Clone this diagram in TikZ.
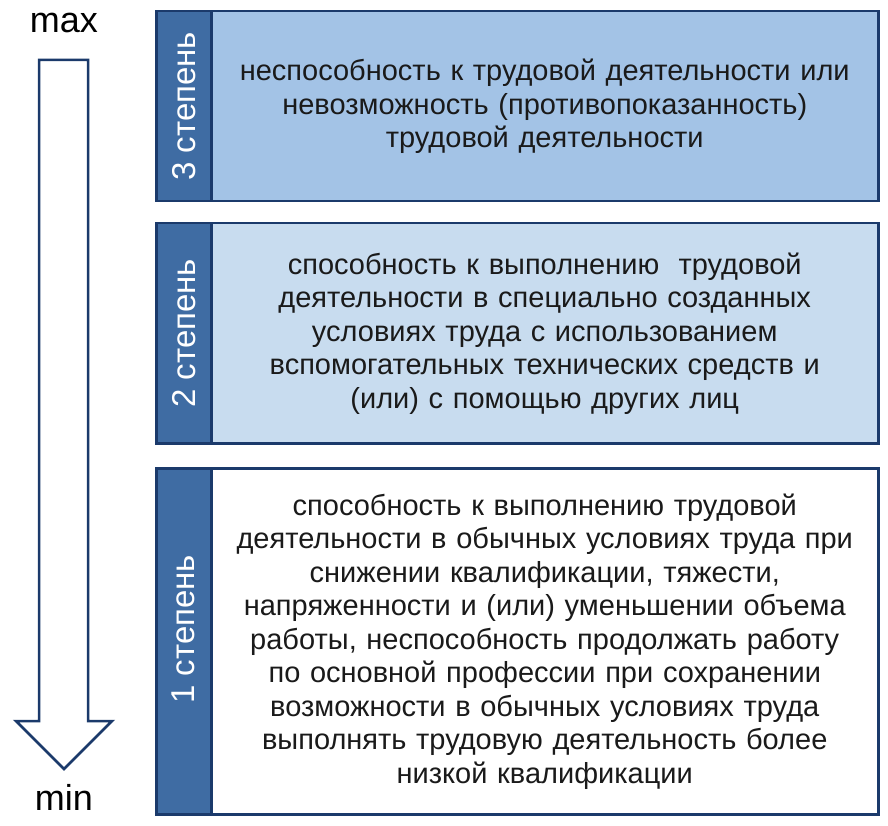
\documentclass[tikz,border=0pt]{standalone}
\usepackage{fontspec}
\setmainfont{Liberation Sans}
\usepackage{tikz}
\usetikzlibrary{positioning}
\definecolor{navy}{HTML}{1B3A6B}
\definecolor{stripblue}{HTML}{3F6CA3}
\definecolor{levthree}{HTML}{A3C3E6}
\definecolor{levtwo}{HTML}{C8DCEF}
\definecolor{textgray}{HTML}{1A1A1A}

\begin{document}
\begin{tikzpicture}[
  x=1pt, y=-1pt,
  strip/.style={rectangle, draw=navy, fill=stripblue, line width=2.5pt,
    minimum width=55pt, anchor=north west, inner sep=0pt},
  stripname/.style={rotate=90, text=white, font=\fontsize{33}{36}\selectfont},
  content/.style={rectangle, draw=navy, line width=2.5pt,
    minimum width=667pt, anchor=north west, inner sep=4pt,
    text width=650pt, align=center, text=textgray,
    font=\fontsize{29}{33.5}\selectfont},
  extreme/.style={font=\fontsize{36}{40}\selectfont, text=black},
  arrowline/.style={draw=navy, fill=white, line width=2.5pt, line join=miter}
]
\useasboundingbox (0,0) rectangle (888,826);
\fill[white] (0,0) rectangle (888,826);

% scale arrow
\node[extreme] (max) at (64,23) {max};
\node[extreme] (min) at (64,797) {min};
\draw[arrowline] (39,60) -- (88,60) -- (88,721) -- (112,721) -- (64,769)
  -- (16,721) -- (39,721) -- cycle;

% level 3
\node[strip, minimum height=190pt] (s3) at (155,10) {};
\node[stripname] (n3) at (s3.center) {3 степень};
\node[content, fill=levthree, minimum height=190pt] (c3) at (210,10)
  {неспособность к трудовой деятельности или\\
   невозможность (противопоказанность)\\
   трудовой деятельности};

% level 2
\node[strip, minimum height=220pt] (s2) at (155,222) {};
\node[stripname] (n2) at (s2.center) {2 степень};
\node[content, fill=levtwo, minimum height=220pt] (c2) at (210,222)
  {способность к выполнению \ трудовой\\
   деятельности в специально созданных\\
   условиях труда с использованием\\
   вспомогательных технических средств и\\
   (или) с помощью других лиц};

% level 1
\node[strip, minimum height=346pt] (s1) at (155,467) {};
\node[stripname] (n1) at ([yshift=12pt]s1.center) {1 степень};
\node[content, fill=white, minimum height=346pt] (c1) at (210,467)
  {способность к выполнению трудовой\\
   деятельности в обычных условиях труда при\\
   снижении квалификации, тяжести,\\
   напряженности и (или) уменьшении объема\\
   работы, неспособность продолжать работу\\
   по основной профессии при сохранении\\
   возможности в обычных условиях труда\\
   выполнять трудовую деятельность более\\
   низкой квалификации};
\end{tikzpicture}
\end{document}
